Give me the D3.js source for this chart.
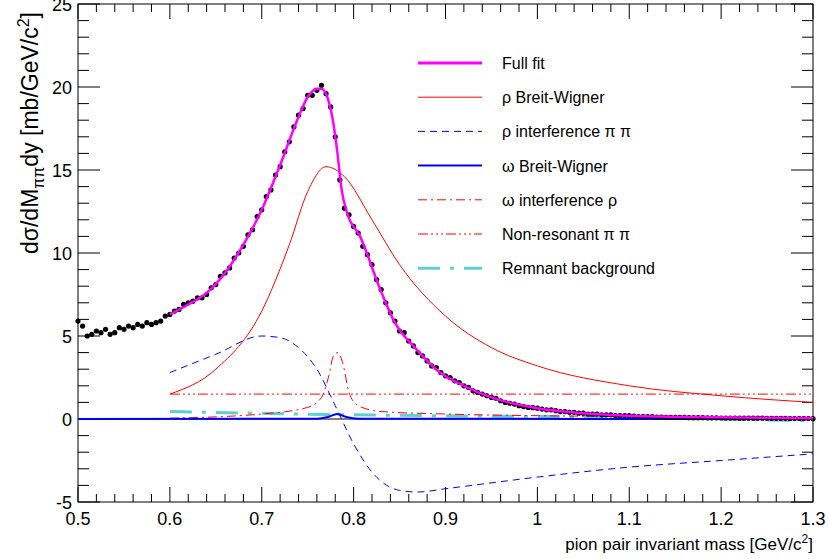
<!DOCTYPE html>
<html>
<head>
<meta charset="UTF-8">
<script src="https://d3js.org/d3.v7.min.js"></script>
<style>
  body { margin: 0; background: #fff; }
  text { font-family: "Liberation Sans", Arial, sans-serif; }
</style>
</head>
<body>
<div id="chart"></div>
<script>
// data points, x from 0.5 in steps of 0.005
const dataStart = 0.5, dataStep = 0.005;
const dataY = [
  5.9, 5.6, 5.0, 5.1, 5.3, 5.2, 5.4, 5.1, 5.2, 5.5, 5.4, 5.6, 5.5, 5.7, 5.6, 5.8, 5.7, 5.8, 5.9, 6.2,
  6.3, 6.5, 6.6, 6.9, 7.0, 7.1, 7.3, 7.3, 7.5, 7.9, 8.1, 8.6, 8.8, 9.1, 9.7, 10.0, 10.4, 11.1, 11.4, 12.2,
  12.6, 13.4, 13.8, 14.7, 15.2, 16.1, 16.7, 17.6, 18.3, 18.7, 19.5, 19.5, 19.8, 20.1, 19.6, 18.8, 17.0, 14.4, 12.7, 12.3,
  11.6, 11.2, 10.4, 9.9, 9.3, 8.4, 7.8, 7.0, 6.4, 5.9, 5.3, 5.2, 4.7, 4.4, 4.0, 3.8, 3.5, 3.2, 3.1, 2.8,
  2.6, 2.5, 2.3, 2.2, 2.0, 1.9, 1.7, 1.6, 1.5, 1.4, 1.3, 1.25, 1.1, 1.0, 0.95, 0.9, 0.8, 0.75, 0.7, 0.68,
  0.65, 0.6, 0.55, 0.55, 0.5, 0.45, 0.45, 0.4, 0.4, 0.35, 0.35, 0.3, 0.3, 0.3, 0.25, 0.25, 0.25, 0.2, 0.2, 0.2,
  0.2, 0.18, 0.15, 0.15, 0.15, 0.15, 0.12, 0.12, 0.1, 0.1, 0.1, 0.1, 0.1, 0.08, 0.08, 0.08, 0.08, 0.07, 0.07, 0.07,
  0.06, 0.06, 0.06, 0.06, 0.05, 0.05, 0.05, 0.05, 0.05, 0.05, 0.04, 0.04, 0.04, 0.04, 0.04, 0.03, 0.03, 0.03, 0.03, 0.03, 0.02
];
// fit components: [mass, value]
const fullFit = [[0.6,6.3],[0.62,6.9],[0.64,7.6],[0.66,8.8],[0.68,10.5],[0.70,12.6],[0.72,15.3],[0.74,18.2],[0.75,19.4],[0.76,19.9],[0.765,19.9],[0.772,19.3],[0.778,17.8],[0.782,16.2],[0.787,13.8],[0.793,12.4],[0.807,11.0],[0.829,7.8],[0.843,6.0],[0.87,4.1],[0.894,2.8],[0.92,2.0],[0.95,1.3],[1.0,0.65],[1.05,0.35],[1.1,0.2],[1.2,0.1],[1.3,0.05]];
const rhoBW = [[0.6,1.5],[0.65,3.0],[0.70,6.5],[0.73,10.5],[0.75,13.7],[0.77,15.2],[0.79,14.6],[0.82,12.0],[0.85,9.3],[0.90,6.2],[0.95,4.3],[1.0,3.2],[1.1,2.0],[1.2,1.4],[1.3,1.0]];
const rhoInt = [[0.6,2.8],[0.65,3.9],[0.70,5.0],[0.72,4.9],[0.74,4.3],[0.76,3.0],[0.78,0.8],[0.80,-1.5],[0.82,-3.2],[0.85,-4.3],[0.87,-4.4],[0.9,-4.2],[1.0,-3.5],[1.1,-2.9],[1.2,-2.5],[1.3,-2.1]];
const omegaBW = [[0.5,0],[0.76,0.02],[0.772,0.12],[0.782,0.3],[0.792,0.12],[0.805,0.02],[1.3,0]];
const omegaInt = [[0.6,0.05],[0.7,0.3],[0.75,0.7],[0.765,1.3],[0.773,2.6],[0.778,3.8],[0.783,4.0],[0.788,3.4],[0.795,1.6],[0.805,0.8],[0.83,0.45],[0.9,0.3],[1.0,0.2],[1.3,0.1]];
const nonRes = [[0.6,1.5],[1.3,1.5]];
const remnant = [[0.6,0.45],[0.8,0.25],[1.0,0.15],[1.3,-0.1]];

const xTicks = [0.5, 0.6, 0.7, 0.8, 0.9, 1, 1.1, 1.2, 1.3];
const yTicks = [-5, 0, 5, 10, 15, 20, 25];

const W = 829, H = 559;
const margin = {top: 4, right: 16, bottom: 57, left: 78};
const svg = d3.select("#chart").append("svg").attr("width", W).attr("height", H);
const x = d3.scaleLinear().domain([0.5, 1.3]).range([margin.left, W - margin.right]);
const y = d3.scaleLinear().domain([-5, 25]).range([H - margin.bottom, margin.top]);

// frame & ticks
const x0 = x.range()[0], x1 = x.range()[1], y0 = y.range()[0], y1 = y.range()[1];
svg.append("rect").attr("x", x0).attr("y", y1).attr("width", x1 - x0).attr("height", y0 - y1)
   .attr("fill", "none").attr("stroke", "#000");
const tk = svg.append("g").attr("stroke", "#000");
d3.range(0.5, 1.3001, 0.02).forEach((v, i) => {
  const L = i % 5 === 0 ? 15 : 8;
  tk.append("line").attr("x1", x(v)).attr("x2", x(v)).attr("y1", y0).attr("y2", y0 - L);
  tk.append("line").attr("x1", x(v)).attr("x2", x(v)).attr("y1", y1).attr("y2", y1 + L);
});
d3.range(-5, 25.001, 1).forEach((v, i) => {
  const L = i % 5 === 0 ? 22 : 11;
  tk.append("line").attr("y1", y(v)).attr("y2", y(v)).attr("x1", x0).attr("x2", x0 + L);
  tk.append("line").attr("y1", y(v)).attr("y2", y(v)).attr("x1", x1).attr("x2", x1 - L);
});
svg.selectAll(".xt").data(xTicks).enter().append("text")
   .attr("x", d => x(d)).attr("y", y0 + 23).attr("text-anchor", "middle")
   .style("font-size", "18px").text(d => d);
svg.selectAll(".yt").data(yTicks).enter().append("text")
   .attr("x", x0 - 6).attr("y", d => y(d) + 7).attr("text-anchor", "end")
   .style("font-size", "18px").text(d => d);

// zero line
svg.append("line").attr("x1", x0).attr("x2", x1).attr("y1", y(0)).attr("y2", y(0)).attr("stroke", "#000");

const line = d3.line().x(d => x(d[0])).y(d => y(d[1])).curve(d3.curveMonotoneX);
const comps = [
  {d: remnant, c: "#5fcfcf", w: 3, dash: "22,10,4,10", label: "Remnant background"},
  {d: nonRes, c: "#ff0000", w: 1, dash: "10,3,2,3,2,3,2,3", label: "Non-resonant \u03c0 \u03c0"},
  {d: omegaInt, c: "#ff0000", w: 1, dash: "9,4,2,4", label: "\u03c9 interference \u03c1"},
  {d: omegaBW, c: "#0000ff", w: 2, dash: null, label: "\u03c9 Breit-Wigner"},
  {d: rhoInt, c: "#0000ff", w: 1, dash: "7,5", label: "\u03c1 interference \u03c0 \u03c0"},
  {d: rhoBW, c: "#ff0000", w: 1, dash: null, label: "\u03c1 Breit-Wigner"}
];
comps.forEach(s => {
  svg.append("path").attr("d", line(s.d)).attr("fill", "none").attr("stroke", s.c)
     .attr("stroke-width", s.w).attr("stroke-dasharray", s.dash);
});

// data points
svg.append("g").selectAll("circle").data(dataY).enter().append("circle")
   .attr("cx", (d, i) => x(dataStart + i * dataStep)).attr("cy", d => y(d))
   .attr("r", 2.6).attr("fill", "#000");

svg.append("path").attr("d", line(fullFit)).attr("fill", "none")
   .attr("stroke", "#ff00ff").attr("stroke-width", 2.5);

// legend
const legend = [{c: "#ff00ff", w: 3, dash: null, label: "Full fit"}].concat(comps.slice().reverse());
legend.forEach((s, i) => {
  const ly = 63 + i * 34.2;
  svg.append("line").attr("x1", 418).attr("x2", 482).attr("y1", ly).attr("y2", ly)
     .attr("stroke", s.c).attr("stroke-width", s.w).attr("stroke-dasharray", s.dash);
  svg.append("text").attr("x", 502).attr("y", ly + 6).style("font-size", "16px").text(s.label);
});

// axis titles
svg.append("text").attr("x", x1).attr("y", H - 9).attr("text-anchor", "end")
   .style("font-size", "17px")
   .html('pion pair invariant mass [GeV/c<tspan dy="-7" font-size="12px">2</tspan><tspan dy="7">]</tspan>');
svg.append("text").attr("transform", `translate(38,12) rotate(-90)`)
   .attr("text-anchor", "end").style("font-size", "23px")
   .html('d\u03c3/dM<tspan dy="6" font-size="16px">\u03c0\u03c0</tspan><tspan dy="-6">dy [mb/GeV/c</tspan><tspan dy="-9" font-size="16px">2</tspan><tspan dy="9">]</tspan>');
</script>
</body>
</html>
